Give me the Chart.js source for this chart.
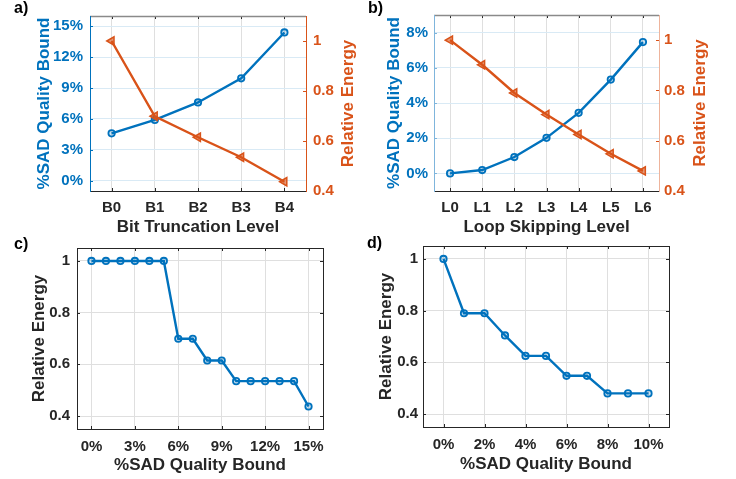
<!DOCTYPE html>
<html>
<head>
<meta charset="utf-8">
<script src="https://cdn.jsdelivr.net/npm/chart.js@4.4.0/dist/chart.umd.min.js"></script>
<style>
  body { margin: 0; background: #fff; width: 736px; height: 479px; position: relative; overflow: hidden; }
  canvas { position: absolute; }
</style>
</head>
<body>
<canvas id="pa" width="364" height="240" style="left:0;top:0"></canvas>
<canvas id="pb" width="372" height="240" style="left:364px;top:0"></canvas>
<canvas id="pc" width="364" height="247" style="left:0;top:232px"></canvas>
<canvas id="pd" width="372" height="247" style="left:364px;top:232px"></canvas>
<script>
// a) bit truncation
const bitLevels = ['B0', 'B1', 'B2', 'B3', 'B4'];
const bitQuality = [4.6, 5.9, 7.6, 9.95, 14.4];
const bitEnergy = [1.0, 0.699, 0.615, 0.535, 0.437];
const bitQualityTicks = [0, 3, 6, 9, 12, 15];

// b) loop skipping
const loopLevels = ['L0', 'L1', 'L2', 'L3', 'L4', 'L5', 'L6'];
const loopQuality = [0, 0.19, 0.93, 2.02, 3.44, 5.33, 7.46];
const loopEnergy = [1.0, 0.902, 0.79, 0.704, 0.625, 0.548, 0.48];
const loopQualityTicks = [0, 2, 4, 6, 8];

const energyTicks = [0.4, 0.6, 0.8, 1];

// c) energy vs bound, bit truncation
const cBound = [0, 1, 2, 3, 4, 5, 6, 7, 8, 9, 10, 11, 12, 13, 14, 15];
const cEnergy = [1, 1, 1, 1, 1, 1, 0.699, 0.699, 0.615, 0.615, 0.535, 0.535, 0.535, 0.535, 0.535, 0.437];
const cBoundTicks = [0, 3, 6, 9, 12, 15];

// d) energy vs bound, loop skipping
const dBound = [0, 1, 2, 3, 4, 5, 6, 7, 8, 9, 10];
const dEnergy = [1, 0.79, 0.79, 0.704, 0.625, 0.625, 0.548, 0.548, 0.48, 0.48, 0.48];
const dBoundTicks = [0, 2, 4, 6, 8, 10];

const BLUE = '#0072BD';
const ORANGE = '#D95319';
const DARK = '#262626';
const GRID = '#dfdfdf';
const GRID_BLUE = '#d9eaf5';
const FONT = '"Liberation Sans", Arial, sans-serif';

Chart.defaults.font.family = FONT;
Chart.defaults.font.weight = 'bold';

// MATLAB-like box, inward ticks, panel letter and right-hand title
const frame = {
  id: 'frame',
  afterDraw(chart, args, o) {
    const ctx = chart.ctx;
    const { left, right, top, bottom } = chart.chartArea;
    const sx = chart.scales.x, sy = chart.scales.y, sy2 = chart.scales.y2 || chart.scales.y;
    const T = 3;
    const seg = (x1, y1, x2, y2, c, w) => {
      ctx.strokeStyle = c; ctx.lineWidth = w || 1;
      ctx.beginPath(); ctx.moveTo(x1, y1); ctx.lineTo(x2, y2); ctx.stroke();
    };
    ctx.save();
    sx.ticks.forEach((t, i) => {
      const p = Math.round(sx.getPixelForTick(i)) + 0.5;
      seg(p, bottom, p, bottom - T, o.bottom);
      seg(p, top, p, top + T, o.tickTop);
    });
    sy.ticks.forEach((t, i) => {
      const p = Math.round(sy.getPixelForTick(i)) + 0.5;
      seg(left, p, left + T, p, o.left);
    });
    sy2.ticks.forEach((t, i) => {
      const p = Math.round(sy2.getPixelForTick(i)) + 0.5;
      seg(right, p, right - T, p, o.rightTick);
    });
    seg(left, top + 0.5, right, top + 0.5, o.top, o.topW || 1);
    seg(left, bottom + 0.5, right, bottom + 0.5, o.bottom);
    seg(left + 0.5, top, left + 0.5, bottom + 1, o.left);
    seg(right + 0.5, top, right + 0.5, bottom + 1, o.right);

    ctx.fillStyle = '#000';
    ctx.font = 'bold 16px ' + FONT;
    ctx.textAlign = 'left';
    ctx.textBaseline = 'alphabetic';
    ctx.fillText(o.label, o.lx, o.ly);

    if (o.rtitle) {
      ctx.translate(o.rtx, (top + bottom) / 2);
      ctx.rotate(-Math.PI / 2);
      ctx.font = 'bold 17px ' + FONT;
      ctx.fillStyle = ORANGE;
      ctx.textAlign = 'center';
      ctx.textBaseline = 'middle';
      ctx.fillText(o.rtitle, 0, 0);
    }
    ctx.restore();
  }
};

function fixTicks(list) {
  return s => { s.ticks = list.map(v => ({ value: v })); };
}

function blueLine(data) {
  return {
    data: data, borderColor: BLUE, borderWidth: 2.4, tension: 0,
    pointStyle: 'circle', pointRadius: 3.2, pointBorderWidth: 1.8,
    pointBorderColor: BLUE, pointBackgroundColor: 'rgba(0,114,189,0.2)', order: 1
  };
}

function orangeLine(data) {
  return {
    data: data, borderColor: ORANGE, borderWidth: 2.4, tension: 0, yAxisID: 'y2',
    pointStyle: 'triangle', pointRotation: -90, pointRadius: 4.8, pointBorderWidth: 1.5,
    pointBorderColor: ORANGE, pointBackgroundColor: 'rgba(217,83,25,0.6)', order: 0
  };
}

function xTitle(text, pb) {
  return { display: true, text: text, color: DARK, font: { size: 17, weight: 'bold' }, padding: { top: 0, bottom: pb } };
}
function yTitle(text, color, pt) {
  return { display: true, text: text, color: color, font: { size: 17, weight: 'bold' }, padding: { top: pt, bottom: 0 } };
}
function tickFont(color, pad) {
  return { color: color, font: { size: 15, weight: 'bold' }, padding: pad, autoSkip: false, maxRotation: 0 };
}

function dualChart(id, p) {
  return new Chart(document.getElementById(id), {
    type: 'line',
    data: {
      labels: p.labels,
      datasets: [blueLine(p.quality), orangeLine(p.energy)]
    },
    options: {
      responsive: false, animation: false, events: [],
      layout: { padding: { top: 10, left: 0, right: 0, bottom: 0 } },
      plugins: {
        legend: { display: false }, tooltip: { enabled: false },
        frame: p.frame
      },
      scales: {
        x: {
          type: 'category', offset: true,
          grid: { offset: false, color: GRID, drawTicks: false },
          border: { display: false },
          ticks: tickFont(DARK, 8),
          title: xTitle(p.xtitle, 2),
          afterFit: s => { s.height = 49; }
        },
        y: {
          position: 'left', min: p.qmin, max: p.qmax,
          afterBuildTicks: fixTicks(p.qticks),
          grid: { color: GRID_BLUE, drawTicks: false },
          border: { display: false },
          ticks: Object.assign(tickFont(BLUE, p.lpad), { callback: v => v + '%' }),
          title: yTitle('%SAD Quality Bound', BLUE, p.ltp),
          afterFit: s => { s.width = p.lw; }
        },
        y2: {
          position: 'right', min: 0.4, max: 1.1,
          afterBuildTicks: fixTicks(energyTicks),
          grid: { drawOnChartArea: false, drawTicks: false },
          border: { display: false },
          ticks: Object.assign(tickFont(ORANGE, p.rpad), { callback: v => String(v) }),
          afterFit: s => { s.width = p.rw; }
        }
      }
    },
    plugins: [frame]
  });
}

function boundChart(id, p) {
  return new Chart(document.getElementById(id), {
    type: 'line',
    data: {
      datasets: [blueLine(p.x.map((v, i) => ({ x: v, y: p.y[i] })))]
    },
    options: {
      responsive: false, animation: false, events: [],
      layout: { padding: { top: p.top, left: 0, right: p.right, bottom: 0 } },
      plugins: {
        legend: { display: false }, tooltip: { enabled: false },
        frame: p.frame
      },
      scales: {
        x: {
          type: 'linear', min: p.xmin, max: p.xmax,
          afterBuildTicks: fixTicks(p.xticks),
          grid: { color: GRID, drawTicks: false },
          border: { display: false },
          ticks: Object.assign(tickFont(DARK, 9), { callback: v => v + '%' }),
          title: xTitle('%SAD Quality Bound', p.xpb),
          afterFit: s => { s.height = p.xh; }
        },
        y: {
          min: 0.35, max: 1.05,
          afterBuildTicks: fixTicks(energyTicks),
          grid: { color: GRID, drawTicks: false },
          border: { display: false },
          ticks: Object.assign(tickFont(DARK, p.lpad), { callback: v => String(v) }),
          title: yTitle('Relative Energy', DARK, p.ltp),
          afterFit: s => { s.width = p.lw; }
        }
      }
    },
    plugins: [frame]
  });
}

dualChart('pa', {
  labels: bitLevels, quality: bitQuality, energy: bitEnergy,
  qmin: -1, qmax: 16, qticks: bitQualityTicks,
  xtitle: 'Bit Truncation Level', lw: 90, rw: 58, lpad: 7, rpad: 7, ltp: 34,
  frame: { label: 'a)', lx: 14, ly: 12.7, rtitle: 'Relative Energy', rtx: 348.3,
           top: '#8a8a8a', topW: 1.5, tickTop: DARK, bottom: DARK, left: BLUE, right: ORANGE, rightTick: ORANGE }
});

dualChart('pb', {
  labels: loopLevels, quality: loopQuality, energy: loopEnergy,
  qmin: -1, qmax: 9, qticks: loopQualityTicks,
  xtitle: 'Loop Skipping Level', lw: 70, rw: 77, lpad: 6, rpad: 5, ltp: 20,
  frame: { label: 'b)', lx: 4, ly: 12.7, rtitle: 'Relative Energy', rtx: 336.8,
           top: '#8a8a8a', topW: 1.5, tickTop: DARK, bottom: DARK, left: '#7fb5dc', right: '#eeb49c', rightTick: ORANGE }
});

boundChart('pc', {
  x: cBound, y: cEnergy, xmin: -1, xmax: 16, xticks: cBoundTicks,
  top: 16, right: 41, lw: 77, xh: 50, lpad: 7, ltp: 29, xpb: 3,
  frame: { label: 'c)', lx: 14, ly: 17, top: DARK, tickTop: DARK, bottom: DARK, left: DARK, right: DARK, rightTick: DARK }
});

boundChart('pd', {
  x: dBound, y: dEnergy, xmin: -1, xmax: 11, xticks: dBoundTicks,
  top: 14, right: 67, lw: 59, xh: 52, lpad: 5, ltp: 12, xpb: 4,
  frame: { label: 'd)', lx: 3, ly: 16, top: DARK, tickTop: DARK, bottom: DARK, left: DARK, right: DARK, rightTick: DARK }
});
</script>
</body>
</html>
